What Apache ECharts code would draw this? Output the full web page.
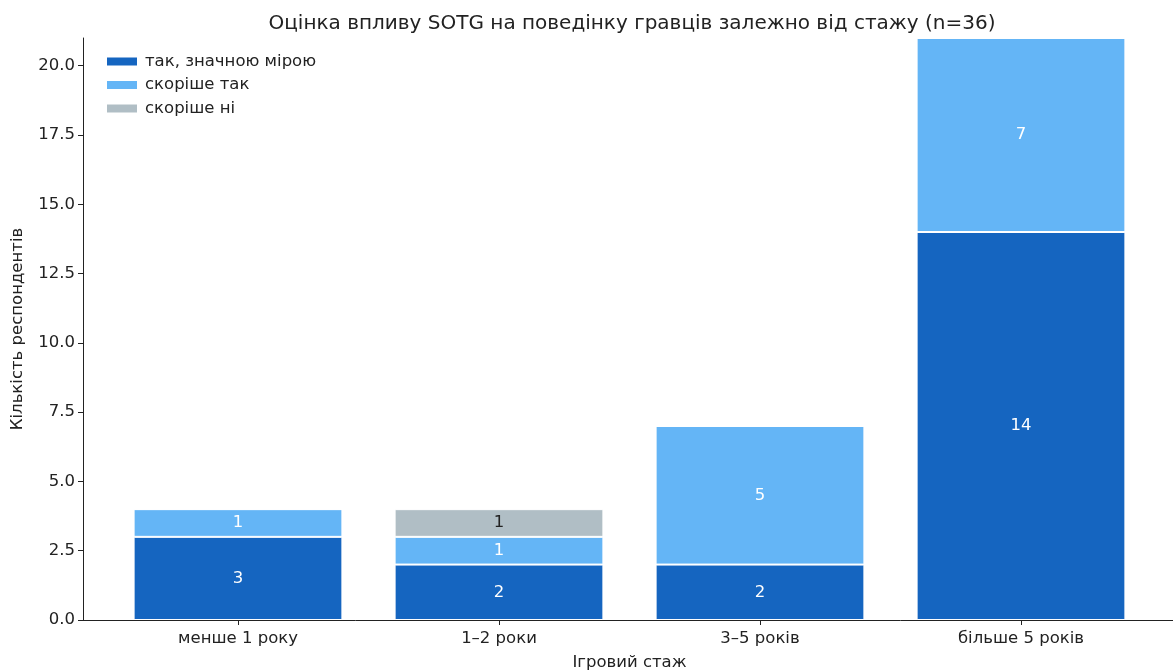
<!DOCTYPE html>
<html>
<head>
<meta charset="utf-8">
<script src="https://cdn.jsdelivr.net/npm/echarts@6/dist/echarts.min.js"></script>
<style>
  html, body { margin: 0; padding: 0; background: #fff; }
  #main { width: 1173px; height: 671px; }
</style>
</head>
<body>
<div id="main"></div>
<script>
// дані з діаграми
const categories = ["менше 1 року", "1–2 роки", "3–5 років", "більше 5 років"];
const seriesNames = ["так, значною мірою", "скоріше так", "скоріше ні"];
const strongYes = [3, 2, 2, 14];
const ratherYes = [1, 1, 5, 7];
const ratherNo = [0, 1, 0, 0];
const yTicks = [0, 2.5, 5, 7.5, 10, 12.5, 15, 17.5, 20];

const colors = ["#1565C0", "#64B5F6", "#B0BEC5"];
const labelColors = ["#ffffff", "#ffffff", "#222222"];
const FONT = "DejaVu Sans";
const FS = 16.5;

const chart = echarts.init(document.getElementById("main"), null, { renderer: "canvas" });

// серія стовпців (сітка 1 — категорійна вісь)
const makeSeries = (name, values, idx) => ({
  name: name,
  type: "bar",
  stack: "total",
  xAxisIndex: 1,
  yAxisIndex: 1,
  barWidth: "80%",
  data: values,
  itemStyle: { color: colors[idx], borderColor: "#ffffff", borderWidth: 1 },
  label: {
    show: true,
    position: "inside",
    color: labelColors[idx],
    fontFamily: FONT,
    fontSize: FS,
    formatter: (p) => (p.value > 0 ? String(p.value) : ""),
  },
  emphasis: { disabled: true },
});

const option = {
  animation: false,
  textStyle: { fontFamily: FONT },
  title: {
    text: "Оцінка впливу SOTG на поведінку гравців залежно від стажу (n=36)",
    left: 627,
    textAlign: "center",
    top: 9,
    textStyle: { fontFamily: FONT, fontSize: 20, fontWeight: "normal", color: "#222" },
  },
  legend: {
    orient: "vertical",
    left: 100,
    top: 48,
    icon: "rect",
    itemWidth: 32,
    itemHeight: 10,
    itemGap: 6.5,
    data: seriesNames,
    textStyle: { fontFamily: FONT, fontSize: FS, color: "#222", padding: [0, 0, 0, 2] },
    selectedMode: false,
  },
  grid: [
    // осі з лініями на всю ширину
    { left: 83, right: 0, top: 38, bottom: 51, outerBoundsMode: "none" },
    // стовпці
    { left: 107.5, right: 21.5, top: 38, bottom: 51, outerBoundsMode: "none" },
  ],
  xAxis: [
    {
      type: "value",
      gridIndex: 0,
      min: 0,
      max: 1,
      axisLine: { show: true, onZero: false, lineStyle: { color: "#222", width: 1 } },
      axisTick: { show: false },
      axisLabel: { show: false },
      splitLine: { show: false },
    },
    {
      type: "category",
      gridIndex: 1,
      data: categories,
      name: "Ігровий стаж",
      nameLocation: "middle",
      nameGap: 34,
      nameTextStyle: { fontFamily: FONT, fontSize: FS, color: "#222" },
      axisLine: { show: false },
      axisTick: { show: true, alignWithLabel: true, length: 5, lineStyle: { color: "#222" } },
      axisLabel: { fontFamily: FONT, fontSize: FS, color: "#222", margin: 10 },
      splitLine: { show: false },
    },
  ],
  yAxis: [
    {
      type: "value",
      gridIndex: 0,
      min: 0,
      max: 21,
      name: "Кількість респондентів",
      nameLocation: "middle",
      nameGap: 57,
      nameTextStyle: { fontFamily: FONT, fontSize: FS, color: "#222" },
      axisLine: { show: true, onZero: false, lineStyle: { color: "#222", width: 1 } },
      axisTick: { show: true, length: 5, customValues: yTicks, lineStyle: { color: "#222" } },
      axisLabel: {
        customValues: yTicks,
        formatter: (v) => v.toFixed(1),
        fontFamily: FONT,
        fontSize: FS,
        color: "#222",
        margin: 8,
      },
      splitLine: { show: false },
    },
    {
      type: "value",
      gridIndex: 1,
      min: 0,
      max: 21,
      show: false,
    },
  ],
  series: [
    makeSeries(seriesNames[0], strongYes, 0),
    makeSeries(seriesNames[1], ratherYes, 1),
    makeSeries(seriesNames[2], ratherNo, 2),
  ],
};

chart.setOption(option);
</script>
</body>
</html>
